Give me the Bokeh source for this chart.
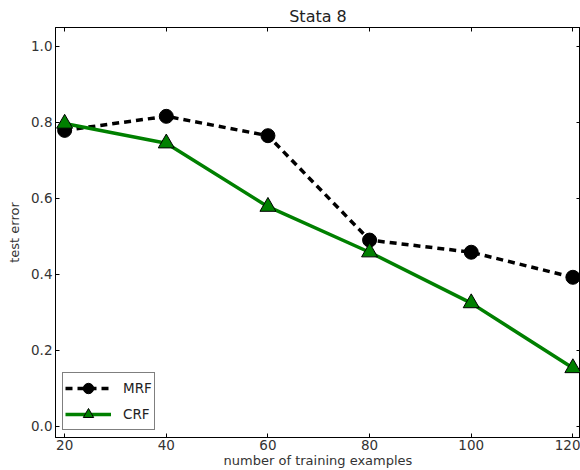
from bokeh.plotting import figure
from bokeh.models import Range1d, LinearAxis, FixedTicker, Legend, LegendItem, CustomJSTickFormatter
from bokeh.embed import file_html
from bokeh.resources import INLINE

# data
train_sizes = [20, 40, 60, 80, 100, 120]
mrf_error = [0.779, 0.816, 0.765, 0.490, 0.458, 0.392]
crf_error = [0.797, 0.745, 0.578, 0.458, 0.324, 0.153]
x_ticks = [20, 40, 60, 80, 100, 120]
y_ticks = [0.0, 0.2, 0.4, 0.6, 0.8, 1.0]

FONT = "DejaVu Sans"

p = figure(width=580, height=470, output_backend="svg", toolbar_location=None,
           x_range=Range1d(18.2, 121.5), y_range=Range1d(-0.03, 1.05),
           title="Stata 8",
           min_border_left=55, min_border_right=0, min_border_top=27, min_border_bottom=33)
p.background_fill_color = "white"
p.border_fill_color = "white"
p.outline_line_color = "black"
p.outline_line_width = 1
p.grid.visible = False

p.title.align = "center"
p.title.text_font = FONT
p.title.text_font_size = "16px"
p.title.text_font_style = "normal"
p.title.text_color = "#222222"
p.title.standoff = 3

fmt = CustomJSTickFormatter(code="return tick.toFixed(1);")
blank = CustomJSTickFormatter(code="return '';")

for ax in [p.xaxis[0], p.yaxis[0]]:
    ax.axis_line_color = "black"
    ax.major_tick_in = 4
    ax.major_tick_out = 0
    ax.minor_tick_line_color = None
    ax.major_tick_line_color = "black"
    ax.major_label_text_font = FONT
    ax.major_label_text_font_size = "13.5px"
    ax.major_label_text_color = "#333333"
    ax.axis_label_text_font = FONT
    ax.axis_label_text_font_size = "13px"
    ax.axis_label_text_font_style = "normal"
    ax.axis_label_text_color = "#333333"

p.xaxis.ticker = FixedTicker(ticks=x_ticks)
p.yaxis.ticker = FixedTicker(ticks=y_ticks)
p.yaxis.formatter = fmt
p.xaxis.axis_label = "number of training examples"
p.yaxis.axis_label = "test error"
p.xaxis.major_label_standoff = 2
p.xaxis.axis_label_standoff = 0
p.yaxis.major_label_standoff = 3
p.yaxis.axis_label_standoff = 6

# mirrored ticks on top and right
top = LinearAxis(ticker=FixedTicker(ticks=x_ticks), formatter=blank,
                 major_tick_in=4, major_tick_out=0,
                 minor_tick_line_color=None, major_label_standoff=0,
                 axis_line_color="black")
right = LinearAxis(ticker=FixedTicker(ticks=y_ticks), formatter=blank,
                   major_tick_in=4, major_tick_out=0,
                   minor_tick_line_color=None, major_label_standoff=0,
                   axis_line_color="black")
p.add_layout(top, "above")
p.add_layout(right, "right")

# MRF
mrf_line = p.line(train_sizes, mrf_error, line_color="black", line_width=3.5, line_dash="7 5")
mrf_pts = p.scatter(train_sizes, mrf_error, marker="circle", size=14,
                    fill_color="black", line_color="black")
# CRF
crf_line = p.line(train_sizes, crf_error, line_color="#008000", line_width=3.5)
crf_pts = p.scatter(train_sizes, crf_error, marker="triangle", size=16,
                    fill_color="#008000", line_color="black", line_width=1)

legend = Legend(items=[LegendItem(label="MRF", renderers=[mrf_line, mrf_pts]),
                       LegendItem(label="CRF", renderers=[crf_line, crf_pts])],
                location=(7, 7), margin=0, padding=2, spacing=-4,
                glyph_width=46, glyph_height=26, label_standoff=12,
                border_line_color="black", border_line_width=1,
                label_text_font=FONT, label_text_font_size="13.5px",
                label_text_color="#222222", background_fill_alpha=1)
p.add_layout(legend, "center")

open("out.html", "w").write(file_html(p, INLINE))
